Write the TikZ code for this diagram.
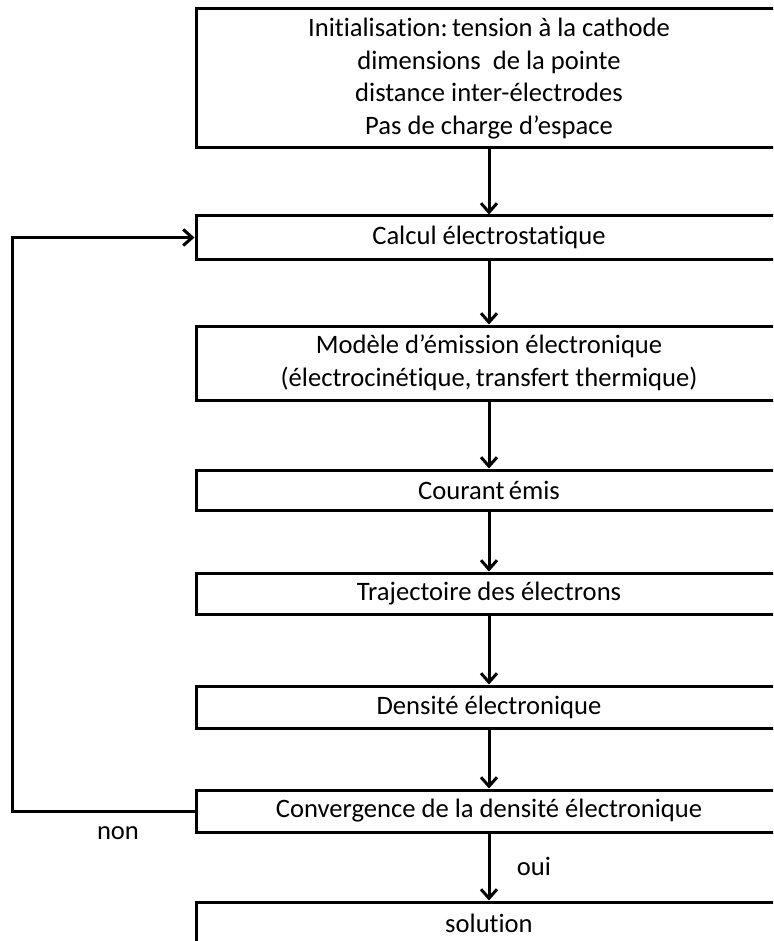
\documentclass[tikz,border=0pt]{standalone}
\usepackage{fontspec}
\setmainfont{Carlito}[Ligatures=NoCommon]
\usetikzlibrary{arrows.meta}
\tikzset{
  box/.style={draw=black, line width=3pt, rectangle, minimum width=586pt, inner sep=0pt, align=center, font=\fontsize{26.6pt}{32.8pt}\selectfont},
  arr/.style={line width=3pt, -{Straight Barb[length=9pt,width=16pt]}},
  lbl/.style={font=\fontsize{26.6pt}{30pt}\selectfont, inner sep=0pt}
}
\begin{document}
\begin{tikzpicture}[x=1pt,y=-1pt]
\useasboundingbox (0,0) rectangle (773,941);
\clip (0,0) rectangle (773,941);
\node[box, minimum height=139pt] (init) at (489,78.5) {Initialisation:\,tension à la cathode\\dimensions\ \ de la pointe\\distance inter-électrodes\\Pas de charge d’espace};
\node[box, minimum height=43pt] (calc) at (489,237.5) {Calcul électrostatique};
\node[box, minimum height=74pt] (mod) at (489,363) {Modèle d’émission électronique\\(électrocinétique,\,transfert thermique)};
\node[box, minimum height=40pt] (cour) at (489,490) {Courant\,émis};
\node[box, minimum height=41pt] (traj) at (489,593.5) {Trajectoire des électrons};
\node[box, minimum height=42pt] (dens) at (489,707) {Densité électronique};
\node[box, minimum height=42pt] (conv) at (489,811) {Convergence de la densité électronique};
\node[box, minimum height=42pt] (sol) at (489,923) {solution};
\coordinate (lp) at (12,811);
\draw[arr] (init) -- (calc);
\draw[arr] (calc) -- (mod);
\draw[arr] (mod) -- (cour);
\draw[arr] (cour) -- (traj);
\draw[arr] (traj) -- (dens);
\draw[arr] (dens) -- (conv);
\draw[arr] (conv) -- (sol);
\draw[arr] (conv.west) -- (lp) |- (calc.west);
\node[lbl] (non) at (118,833) {non};
\node[lbl] (oui) at (534,866) {oui};
\end{tikzpicture}
\end{document}
